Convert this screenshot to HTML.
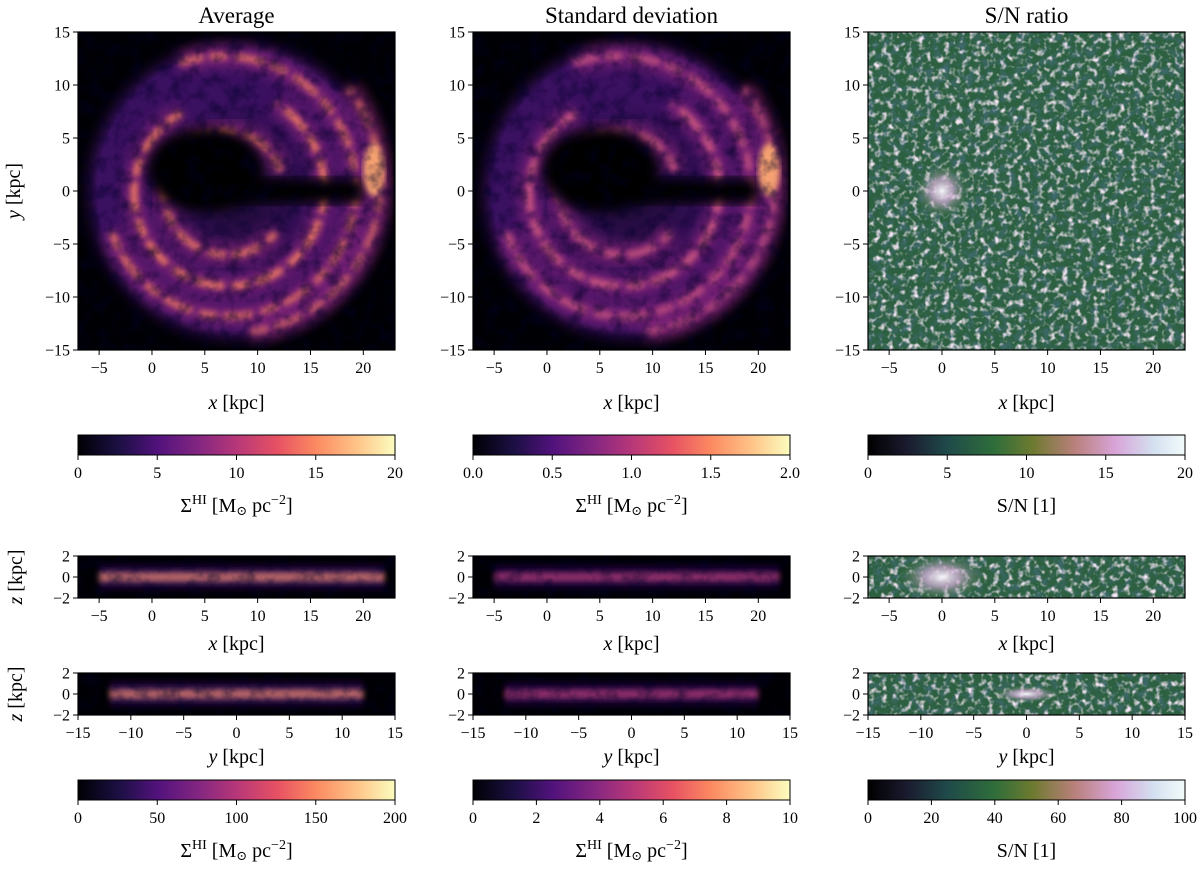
<!DOCTYPE html>
<html><head><meta charset="utf-8"><style>
html,body{margin:0;padding:0;background:#fff;}
svg{display:block;font-family:"Liberation Serif","DejaVu Serif",serif;}
</style></head><body>
<svg id="fig" width="1200" height="873" viewBox="0 0 1200 873" xmlns="http://www.w3.org/2000/svg">
<defs>
<linearGradient id="magma" x1="0" x2="1" y1="0" y2="0">
<stop offset="0" stop-color="#000004"/><stop offset="0.13" stop-color="#1c1044"/><stop offset="0.25" stop-color="#51127c"/><stop offset="0.38" stop-color="#832681"/><stop offset="0.5" stop-color="#b73779"/><stop offset="0.63" stop-color="#e75263"/><stop offset="0.75" stop-color="#fc8961"/><stop offset="0.88" stop-color="#fec488"/><stop offset="1" stop-color="#fcfdbf"/>
</linearGradient>
<linearGradient id="sncm" x1="0" x2="1" y1="0" y2="0">
<stop offset="0" stop-color="#000000"/><stop offset="0.12" stop-color="#1a1a2e"/><stop offset="0.25" stop-color="#1f4a4a"/><stop offset="0.4" stop-color="#2f6e3a"/><stop offset="0.52" stop-color="#6e7a30"/><stop offset="0.65" stop-color="#b8807a"/><stop offset="0.78" stop-color="#d8a4d8"/><stop offset="0.9" stop-color="#d4e0f0"/><stop offset="1" stop-color="#f2fbfa"/>
</linearGradient>
<radialGradient id="disc" cx="0.5" cy="0.5" r="0.5">
<stop offset="0" stop-color="#1a0a30"/><stop offset="0.55" stop-color="#3a1060"/><stop offset="0.85" stop-color="#3a1060"/><stop offset="1" stop-color="#000004" stop-opacity="0"/>
</radialGradient>
<radialGradient id="snglow" cx="0.5" cy="0.5" r="0.5">
<stop offset="0" stop-color="#f4f8fa"/><stop offset="0.4" stop-color="#d8b0d8" stop-opacity="0.7"/><stop offset="1" stop-color="#2f6e3a" stop-opacity="0"/>
</radialGradient>
<linearGradient id="bandA" x1="0" x2="0" y1="0" y2="1">
<stop offset="0" stop-color="#000004" stop-opacity="0"/><stop offset="0.38" stop-color="#3a1060"/><stop offset="0.5" stop-color="#f89068"/><stop offset="0.62" stop-color="#3a1060"/><stop offset="1" stop-color="#000004" stop-opacity="0"/>
</linearGradient>
<linearGradient id="bandS" x1="0" x2="0" y1="0" y2="1">
<stop offset="0" stop-color="#000004" stop-opacity="0"/><stop offset="0.38" stop-color="#2a0a50"/><stop offset="0.5" stop-color="#c04078"/><stop offset="0.62" stop-color="#2a0a50"/><stop offset="1" stop-color="#000004" stop-opacity="0"/>
</linearGradient>
<filter id="blur3"><feGaussianBlur stdDeviation="3"/></filter>
<filter id="blur6"><feGaussianBlur stdDeviation="6"/></filter>
<filter id="speck" x="0" y="0" width="1" height="1"><feTurbulence type="fractalNoise" baseFrequency="0.16" numOctaves="2" seed="4"/><feColorMatrix type="matrix" values="0 0 0 0 0.9  0 0 0 0 0.78  0 0 0 0 0.9  3.2 0 0 0 -1.6"/></filter>
<filter id="darkspeck" x="0" y="0" width="1" height="1"><feTurbulence type="fractalNoise" baseFrequency="0.12" numOctaves="2" seed="9"/><feColorMatrix type="matrix" values="0 0 0 0 0.05  0 0 0 0 0.14  0 0 0 0 0.16  2.5 0 0 0 -1.1"/></filter>
<filter id="mtex" x="0" y="0" width="1" height="1"><feTurbulence type="fractalNoise" baseFrequency="0.07" numOctaves="3" seed="2"/><feColorMatrix type="matrix" values="0 0 0 0 0  0 0 0 0 0  0 0 0 0 0.02  2 0 0 0 -0.85"/></filter>
</defs>
<g id="root"></g>
</svg>
<script>
const NS="http://www.w3.org/2000/svg";
const root=document.getElementById('root');
// data arrays
const titles=["Average","Standard deviation","S/N ratio"];
const faceXTicks=[-5,0,5,10,15,20];
const faceYTicks=[-15,-10,-5,0,5,10,15];
const edgeZTicks=[-2,0,2];
const yEdgeTicks=[-15,-10,-5,0,5,10,15];
const cbTopMax=[20,2.0,20];
const cbTopTicks=[[0,5,10,15,20],[0.0,0.5,1.0,1.5,2.0],[0,5,10,15,20]];
const cbTopLabels=[["0","5","10","15","20"],["0.0","0.5","1.0","1.5","2.0"],["0","5","10","15","20"]];
const cbBotMax=[200,10,100];
const cbBotTicks=[[0,50,100,150,200],[0,2,4,6,8,10],[0,20,40,60,80,100]];
// face-on arm arcs: [radius kpc, startDeg, endDeg, intensity]
const armR=[5.5,8.5,11.5,13.5];
const armStart=[20,120,200,280];
const armEnd=[320,420,470,400];
const armI=[0.8,0.9,0.75,0.6];

const colX=[78,473,868], W=317;
function el(tag,attrs,parent){const e=document.createElementNS(NS,tag);for(const k in attrs)e.setAttribute(k,attrs[k]);(parent||root).appendChild(e);return e;}
function txt(s,x,y,size,anchor,parent){const t=el('text',{x:x,y:y,'font-size':size,'text-anchor':anchor||'middle',fill:'#000'},parent);t.textContent=s;return t;}
function fmt(v){return v<0?'\u2212'+Math.abs(v):String(v);}
function axisLabel(name,x,y,rot){
  const t=el('text',{x:x,y:y,'font-size':20,'text-anchor':'middle',fill:'#000'});
  if(rot)t.setAttribute('transform','rotate(-90 '+x+' '+y+')');
  
  
  const a=el('tspan',{'font-style':'italic'},t);a.textContent=name;
  const b=el('tspan',{},t);b.textContent=' [kpc]';
}
let clipId=0;
function panel(kind,ci,x0,y0,w,h,xmin,xmax,ymin,ymax,xt,yt){
  const g=el('g',{});
  
  
  const sx=v=>x0+(v-xmin)/(xmax-xmin)*w;
  const sy=v=>y0+h-(v-ymin)/(ymax-ymin)*h;
  const cid='c'+(clipId++);
  const cp=el('clipPath',{id:cid},g);el('rect',{x:x0,y:y0,width:w,height:h},cp);
  const im=el('g',{'clip-path':'url(#'+cid+')'},g);
  
  
  if(ci<2){
    el('rect',{x:x0,y:y0,width:w,height:h,fill:'#000004'},im);
    if(kind==='face'){
      const k=(w/(xmax-xmin));
      el('circle',{cx:sx(8),cy:sy(0),r:15.5*k,fill:'url(#disc)'},im);
      const col=ci===0?'#f07a60':'#d05a80';
      for(let i=0;i<armR.length;i++){
        const r=armR[i]*k,a0=armStart[i]*Math.PI/180,a1=armEnd[i]*Math.PI/180;
        let d='';const n=40;
        for(let j=0;j<=n;j++){const a=a0+(a1-a0)*j/n;const rr=r*(1+0.12*j/n);d+=(j?'L':'M')+(sx(7)+rr*Math.cos(a)).toFixed(1)+' '+(sy(0)-rr*Math.sin(a)).toFixed(1);}
        el('path',{d:d,fill:'none',stroke:'#9a2a80','stroke-width':22,opacity:0.6,filter:'url(#blur6)'},im);
        el('path',{d:d,fill:'none',stroke:col,'stroke-width':7,opacity:armI[i],filter:'url(#blur3)','stroke-dasharray':'18 6 30 8'},im);
      }
      el('ellipse',{cx:sx(5),cy:sy(2),rx:5.5*k,ry:4*k,fill:'#000004',filter:'url(#blur6)'},im);
      el('rect',{x:sx(8),y:sy(1.2),width:12*k,height:2.4*k,fill:'#000004',filter:'url(#blur6)'},im);
      el('ellipse',{cx:sx(21),cy:sy(2),rx:1*k,ry:2.5*k,fill:'#f4a070',filter:'url(#blur3)'},im);
      el('rect',{x:x0,y:y0,width:w,height:h,filter:'url(#mtex)',opacity:0.6},im);
    } else {
      const bx=kind==='edgex'?sx(-5):sx(-12), bw=kind==='edgex'?sx(22)-sx(-5):sx(12)-sx(-12);
      el('rect',{x:bx,y:y0+2,width:bw,height:h-4,fill:ci===0?'url(#bandA)':'url(#bandS)',filter:'url(#blur3)'},im);
      el('rect',{x:x0,y:y0,width:w,height:h,filter:'url(#mtex)',opacity:0.5},im);
    }
  } else {
    el('rect',{x:x0,y:y0,width:w,height:h,fill:'#2c6040'},im);
    el('rect',{x:x0,y:y0,width:w,height:h,filter:'url(#darkspeck)'},im);
    el('rect',{x:x0,y:y0,width:w,height:h,filter:'url(#speck)'},im);
    if(kind==='face'){el('circle',{cx:sx(0),cy:sy(0),r:28,fill:'url(#snglow)'},im);}
    else if(kind==='edgex'){el('ellipse',{cx:sx(0),cy:sy(0),rx:45,ry:24,fill:'url(#snglow)'},im);}
    else {el('ellipse',{cx:sx(0),cy:sy(0),rx:35,ry:9,fill:'url(#snglow)'},im);}
  }
  el('rect',{x:x0,y:y0,width:w,height:h,fill:'none',stroke:'#000','stroke-width':1.2},g);
  xt.forEach(v=>{const x=sx(v);el('line',{x1:x,x2:x,y1:y0+h,y2:y0+h+5,stroke:'#000'},g);const t=txt(fmt(v),x,y0+h+23,16,'middle',g);});
  yt.forEach(v=>{const y=sy(v);el('line',{x1:x0-5,x2:x0,y1:y,y2:y,stroke:'#000'},g);const t=txt(fmt(v),x0-8,y+5.5,16,'end',g);});
}
function colorbar(ci,y0,max,ticks,labels,fill){
  const x0=colX[ci],h=20;
  const g=el('g',{});
  
  
  el('rect',{x:x0,y:y0,width:W,height:h,fill:fill,stroke:'#000','stroke-width':1},g);
  ticks.forEach((v,i)=>{const x=x0+v/max*W;el('line',{x1:x,x2:x,y1:y0+h,y2:y0+h+5,stroke:'#000'},g);const t=txt(labels?labels[i]:String(v),x,y0+h+23,16,'middle',g);});
  const cx=x0+W/2, ly=y0+h+57;
  const t=el('text',{x:cx,y:ly,'font-size':20,'text-anchor':'middle'},g);
  
  
  if(ci===2){t.textContent='S/N [1]';}
  else{
    const a=el('tspan',{},t);a.textContent='\u03A3';
    const b=el('tspan',{'font-size':14,dy:-8},t);b.textContent='HI';
    const c=el('tspan',{dy:8},t);c.textContent=' [M';
    const c2=el('tspan',{'font-size':13,dy:3},t);c2.textContent='\u2299';
    const c3=el('tspan',{dy:-3},t);c3.textContent=' pc';
    const d=el('tspan',{'font-size':14,dy:-8},t);d.textContent='\u22122';
    const e=el('tspan',{dy:8},t);e.textContent=']';
  }
}
titles.forEach((s,i)=>{const t=txt(s,colX[i]+W/2,23,23);});
for(let i=0;i<3;i++){
  panel('face',i,colX[i],32,W,318,-7,23,-15,15,faceXTicks,faceYTicks);
  axisLabel('x',colX[i]+W/2,409,false);
  colorbar(i,435,cbTopMax[i],cbTopTicks[i],cbTopLabels[i],i<2?'url(#magma)':'url(#sncm)');
  panel('edgex',i,colX[i],556,W,42,-7,23,-2,2,faceXTicks,edgeZTicks);
  axisLabel('x',colX[i]+W/2,650,false);
  panel('edgey',i,colX[i],673,W,42,-15,15,-2,2,yEdgeTicks,edgeZTicks);
  axisLabel('y',colX[i]+W/2,763,false);
  colorbar(i,780,cbBotMax[i],cbBotTicks[i],null,i<2?'url(#magma)':'url(#sncm)');
}
axisLabel('y',20,191,true);
axisLabel('z',22,577,true);
axisLabel('z',22,694,true);
</script>
</body></html>
